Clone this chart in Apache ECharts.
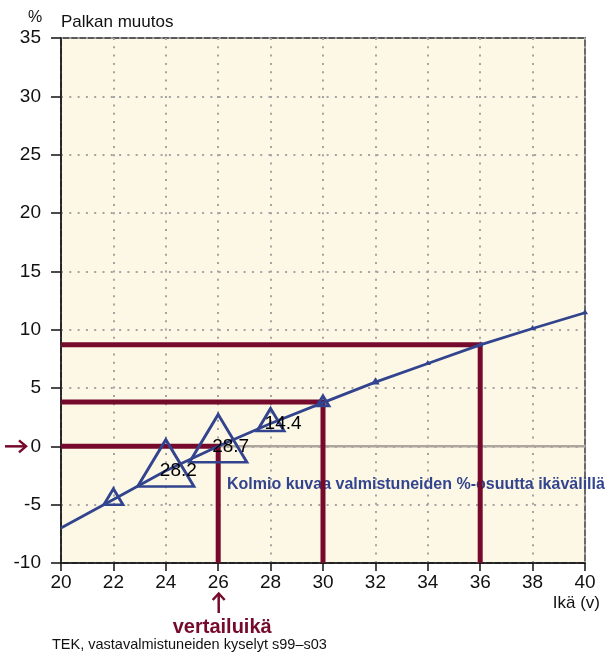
<!DOCTYPE html>
<html>
<head>
<meta charset="utf-8">
<script src="https://cdn.jsdelivr.net/npm/echarts@6/dist/echarts.min.js"></script>
<style>
html,body{margin:0;padding:0;background:#fff;}
#c{width:606px;height:653px;}
</style>
</head>
<body>
<div id="c"></div>
<script>
// ---- data ----
const ages = [20, 22, 24, 26, 28, 30, 32, 34, 36, 38, 40];
const salaryChange = [-7.0, -4.55, -2.1, 0, 1.96, 3.75, 5.5, 7.1, 8.7, 10.1, 11.45];
const triangleAges = [22, 24, 26, 28, 30, 32, 34, 36, 38, 40];
const sharePercent = [10.7, 28.2, 28.7, 14.4, 7.3, 3.4, 1.8, 1.0, 0.5, 1.2];
const labeledAges = [24, 26, 28];
const refAges = [26, 30, 36];
const refValues = [0, 3.8, 8.7];
const xMin = 20, xMax = 40, xStep = 2;
const yMin = -10, yMax = 35, yStep = 5;

const RED = '#760a2c';
const BLUE = '#33448f';
const FONT = 'Liberation Sans';

function valueAt(age) { return salaryChange[ages.indexOf(age)]; }

const triData = triangleAges.map((a, i) => [a, valueAt(a), sharePercent[i]]);
const labelData = labeledAges.map(a => [a, valueAt(a), sharePercent[triangleAges.indexOf(a)]]);

const refSeries = refAges.map((a, i) => ({
  type: 'line', z: 2, silent: true, symbol: 'none',
  data: [[xMin, refValues[i]], [a, refValues[i]], [a, yMin]],
  lineStyle: { color: RED, width: 5, join: 'miter', cap: 'butt' }
}));

const chart = echarts.init(document.getElementById('c'), null, { renderer: 'canvas' });

const option = {
  animation: false,
  textStyle: { fontFamily: FONT },
  grid: { left: 61, right: 21, top: 38, bottom: 90, show: true,
          backgroundColor: '#fdf8e5', borderColor: '#5a5a5a', borderWidth: 1.8 },
  xAxis: {
    type: 'value', min: xMin, max: xMax, interval: xStep,
    axisLine: { onZero: false, lineStyle: { color: '#111', width: 1.5 } },
    axisTick: { show: true, length: 8, lineStyle: { color: '#111', width: 1.5 } },
    axisLabel: { color: '#111', fontSize: 19, margin: 10, fontFamily: FONT },
    splitLine: { show: true, lineStyle: { color: '#a4a4a4', width: 2, type: [2, 6.3] } }
  },
  yAxis: {
    type: 'value', min: yMin, max: yMax, interval: yStep,
    axisLine: { show: true, onZero: false, lineStyle: { color: '#111', width: 1.5 } },
    axisTick: { show: true, length: 10, lineStyle: { color: '#111', width: 1.5 } },
    axisLabel: { color: '#111', fontSize: 19, margin: 20, fontFamily: FONT },
    splitLine: { show: true, lineStyle: { color: '#a4a4a4', width: 2, type: [2, 6.3] } }
  },
  series: [
    { type: 'line', z: 1, silent: true, symbol: 'none',
      data: [[xMin, 0], [xMax, 0]],
      lineStyle: { color: '#aea69d', width: 2.5 } },
    ...refSeries,
    { type: 'line', z: 3, silent: true, symbol: 'none', smooth: false,
      data: ages.map((a, i) => [a, salaryChange[i]]),
      lineStyle: { color: BLUE, width: 2.8 } },
    { type: 'scatter', z: 4, silent: true,
      data: triData,
      symbol: 'triangle',
      symbolSize: d => { const h = Math.max(1, 1.77 * d[2] - 3); return [Math.max(1, h * 1.2), h]; },
      symbolOffset: [0, '-16.67%'],
      itemStyle: { color: 'transparent', borderColor: BLUE, borderWidth: 2.8, opacity: 1 } },
    { type: 'scatter', z: 5, silent: true,
      data: labelData, symbolSize: 1,
      itemStyle: { color: 'transparent', opacity: 1 },
      label: { show: true, position: 'inside', offset: [12.5, 0],
        formatter: p => p.value[2].toFixed(1),
        color: '#000', fontSize: 19, fontFamily: FONT, textBorderWidth: 0 } }
  ]
};
chart.setOption(option);

// annotations anchored to axes
const p0 = chart.convertToPixel({ gridIndex: 0 }, [xMin, 0]);
const pRef = chart.convertToPixel({ gridIndex: 0 }, [refAges[0], yMin]);
const ay = p0[1];
const rx = pRef[0];

chart.setOption({
  graphic: [
    { type: 'text', left: 28, top: 10, z: 10, style: { text: '%', fontSize: 16, fontFamily: FONT, fill: '#111' } },
    { type: 'text', left: 61, top: 14, z: 10, style: { text: 'Palkan muutos', fontSize: 17, fontFamily: FONT, fill: '#111' } },
    { type: 'text', x: 227, y: 485, z: 1, style: { text: 'Kolmio kuvaa valmistuneiden %-osuutta ikävälillä',
        fontSize: 16, fontWeight: 'bold', fontFamily: FONT, fill: BLUE, verticalAlign: 'middle', align: 'left' } },
    { type: 'text', right: 6, top: 595, z: 10, style: { text: 'Ikä (v)', fontSize: 17, fontFamily: FONT, fill: '#111' } },
    { type: 'text', x: rx + 4, y: 627, z: 10, style: { text: 'vertailuikä', fontSize: 20, fontWeight: 'bold',
        fontFamily: FONT, fill: RED, align: 'center', verticalAlign: 'middle' } },
    { type: 'text', left: 52, top: 637, z: 10, style: { text: 'TEK, vastavalmistuneiden kyselyt s99–s03',
        fontSize: 14.5, fontFamily: FONT, fill: '#111' } },
    // up arrow under reference age
    { type: 'line', z: 10, shape: { x1: rx + 0.5, y1: 594, x2: rx + 0.5, y2: 613 }, style: { stroke: RED, lineWidth: 2.5 } },
    { type: 'polyline', z: 10, shape: { points: [[rx - 5.5, 600], [rx + 0.5, 593.5], [rx + 6.5, 600]] },
      style: { stroke: RED, lineWidth: 2.5, fill: null } },
    // right arrow pointing to zero
    { type: 'line', z: 10, shape: { x1: 5, y1: ay, x2: 25, y2: ay }, style: { stroke: RED, lineWidth: 2.5 } },
    { type: 'polyline', z: 10, shape: { points: [[19, ay - 6], [26, ay], [19, ay + 6]] },
      style: { stroke: RED, lineWidth: 2.5, fill: null } }
  ]
});
</script>
</body>
</html>
